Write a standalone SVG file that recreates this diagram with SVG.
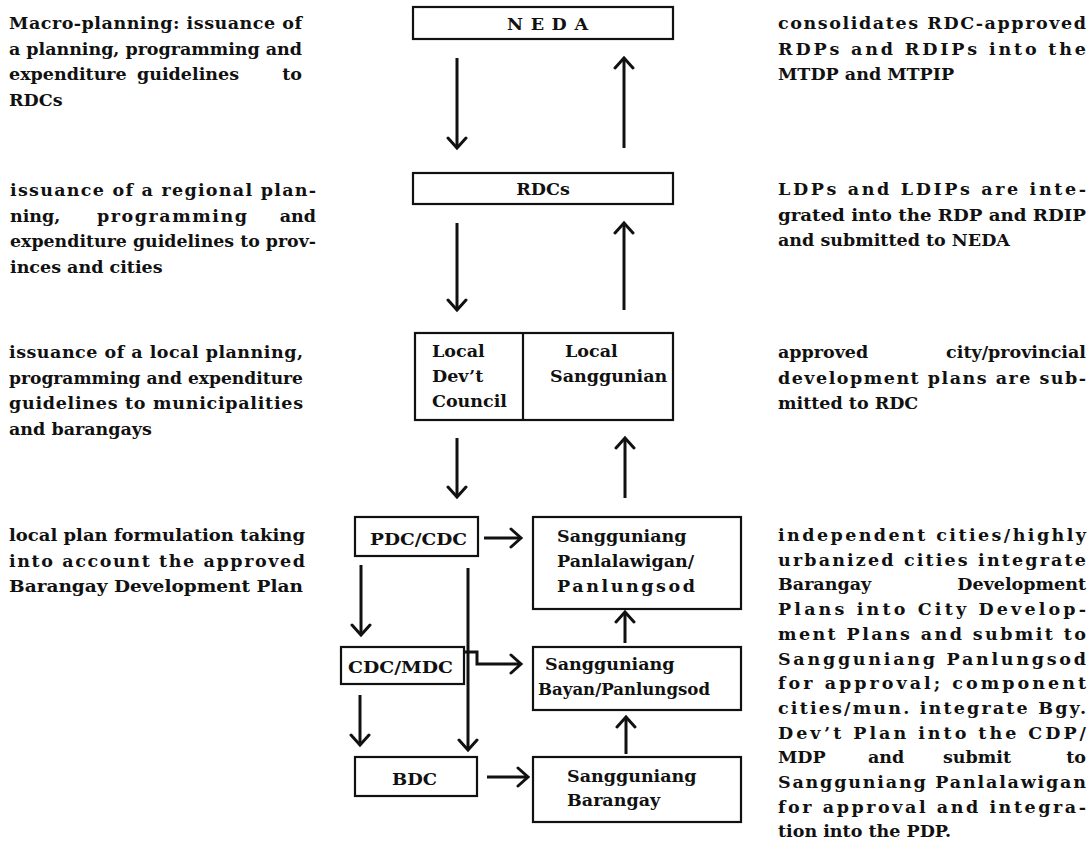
<svg xmlns="http://www.w3.org/2000/svg" width="1092" height="863" viewBox="0 0 1092 863">
<style>
 text { font-family: "DejaVu Serif", "Liberation Serif", serif; font-weight: bold; fill: #111; }
 .t { font-size: 17.5px; }
 .b { font-size: 17.5px; }
 .e { text-anchor: end; }
 .m { text-anchor: middle; }
 .box { fill: #fff; stroke: #111; stroke-width: 2.2; }
 .c { fill: none; stroke: #111; stroke-width: 3; }
</style>
<defs>
 <marker id="ah" markerUnits="userSpaceOnUse" markerWidth="16" markerHeight="22" refX="12" refY="11" orient="auto" viewBox="0 0 16 22">
  <path d="M2,2 L12,11 L2,20" fill="none" stroke="#111" stroke-width="3" stroke-linecap="round"/>
 </marker>
</defs>
<rect width="1092" height="863" fill="#fff"/>

<g id="notes-left">
 <text class="t" x="9" y="29" textLength="293" lengthAdjust="spacing">Macro-planning: issuance of</text>
 <text class="t" x="9" y="54.7" textLength="293" lengthAdjust="spacing">a planning, programming and</text>
 <text class="t" x="9" y="80.4">expenditure</text>
 <text class="t" x="137" y="80.4">guidelines</text>
 <text class="t e" x="302" y="80.4">to</text>
 <text class="t" x="9" y="106">RDCs</text>

 <text class="t" x="10" y="196" textLength="306" lengthAdjust="spacing">issuance of a regional plan-</text>
 <text class="t" x="10" y="221.7">ning,</text>
 <text class="t" x="97" y="221.7" textLength="150" lengthAdjust="spacing">programming</text>
 <text class="t e" x="316" y="221.7">and</text>
 <text class="t" x="10" y="247.4" textLength="306" lengthAdjust="spacingAndGlyphs">expenditure guidelines to prov-</text>
 <text class="t" x="10" y="273">inces and cities</text>

 <text class="t" x="9" y="358" textLength="294" lengthAdjust="spacing">issuance of a local planning,</text>
 <text class="t" x="9" y="383.7" textLength="294" lengthAdjust="spacingAndGlyphs">programming and expenditure</text>
 <text class="t" x="9" y="409.4" textLength="294" lengthAdjust="spacing">guidelines to municipalities</text>
 <text class="t" x="9" y="435">and barangays</text>

 <text class="t" x="9" y="541" textLength="296" lengthAdjust="spacingAndGlyphs">local plan formulation taking</text>
 <text class="t" x="9" y="566.7" textLength="296" lengthAdjust="spacing">into account the approved</text>
 <text class="t" x="9" y="592.4" textLength="294" lengthAdjust="spacingAndGlyphs">Barangay Development Plan</text>
</g>

<g id="notes-right">
 <text class="t" x="778" y="29" textLength="308" lengthAdjust="spacing">consolidates RDC-approved</text>
 <text class="t" x="778" y="54.7" textLength="308" lengthAdjust="spacing">RDPs and RDIPs into the</text>
 <text class="t" x="778" y="80.4">MTDP and MTPIP</text>

 <text class="t" x="778" y="195" textLength="308" lengthAdjust="spacing">LDPs and LDIPs are inte-</text>
 <text class="t" x="778" y="220.5" textLength="308" lengthAdjust="spacingAndGlyphs">grated into the RDP and RDIP</text>
 <text class="t" x="778" y="246">and submitted to NEDA</text>

 <text class="t" x="778" y="358">approved</text>
 <text class="t e" x="1086" y="358">city/provincial</text>
 <text class="t" x="778" y="383.7" textLength="308" lengthAdjust="spacing">development plans are sub-</text>
 <text class="t" x="778" y="409.4">mitted to RDC</text>

 <text class="t" x="778" y="541" textLength="308" lengthAdjust="spacing">independent cities/highly</text>
 <text class="t" x="778" y="565.7" textLength="308" lengthAdjust="spacing">urbanized cities integrate</text>
 <text class="t" x="778" y="590.4">Barangay</text>
 <text class="t e" x="1086" y="590.4">Development</text>
 <text class="t" x="778" y="615.1" textLength="308" lengthAdjust="spacing">Plans into City Develop-</text>
 <text class="t" x="778" y="639.8" textLength="308" lengthAdjust="spacing">ment Plans and submit to</text>
 <text class="t" x="778" y="664.5" textLength="308" lengthAdjust="spacing">Sangguniang Panlungsod</text>
 <text class="t" x="778" y="689.2" textLength="308" lengthAdjust="spacing">for approval; component</text>
 <text class="t" x="778" y="713.9" textLength="308" lengthAdjust="spacing">cities/mun. integrate Bgy.</text>
 <text class="t" x="778" y="738.6" textLength="308" lengthAdjust="spacing">Dev’t Plan into the CDP/</text>
 <text class="t" x="778" y="763.3">MDP</text>
 <text class="t" x="868" y="763.3">and</text>
 <text class="t" x="943" y="763.3">submit</text>
 <text class="t e" x="1086" y="763.3">to</text>
 <text class="t" x="778" y="788" textLength="308" lengthAdjust="spacing">Sangguniang Panlalawigan</text>
 <text class="t" x="778" y="812.7" textLength="308" lengthAdjust="spacing">for approval and integra-</text>
 <text class="t" x="778" y="837.4">tion into the PDP.</text>
</g>

<g id="connectors">
 <path class="c" d="M457,58 V148" marker-end="url(#ah)"/>
 <path class="c" d="M624,148 V58" marker-end="url(#ah)"/>
 <path class="c" d="M457,223 V310" marker-end="url(#ah)"/>
 <path class="c" d="M624,310 V223" marker-end="url(#ah)"/>
 <path class="c" d="M457,438 V497" marker-end="url(#ah)"/>
 <path class="c" d="M625,498 V438" marker-end="url(#ah)"/>
 <path class="c" d="M484,538 H521" marker-end="url(#ah)"/>
 <path class="c" d="M361,565 V635" marker-end="url(#ah)"/>
 <path class="c" d="M468,568 V750" marker-end="url(#ah)"/>
 <path class="c" d="M464,652 H477 V664 H521" marker-end="url(#ah)"/>
 <path class="c" d="M360,695 V745" marker-end="url(#ah)"/>
 <path class="c" d="M487,777 H528" marker-end="url(#ah)"/>
 <path class="c" d="M625,643 V612" marker-end="url(#ah)"/>
 <path class="c" d="M626,754 V717" marker-end="url(#ah)"/>
</g>

<g id="neda">
 <rect class="box" x="413" y="7" width="260" height="32"/>
 <text class="b" x="507" y="30" textLength="81" lengthAdjust="spacing">NEDA</text>
</g>
<g id="rdcs">
 <rect class="box" x="413" y="173" width="260" height="31"/>
 <text class="b m" x="543" y="195">RDCs</text>
</g>
<g id="local">
 <rect class="box" x="415" y="333" width="258" height="87"/>
 <line x1="523" y1="333" x2="523" y2="420" stroke="#111" stroke-width="2.2"/>
 <text class="b" x="432" y="357">Local</text>
 <text class="b" x="432" y="382">Dev’t</text>
 <text class="b" x="432" y="407">Council</text>
 <text class="b" x="565" y="357">Local</text>
 <text class="b" x="550" y="382">Sanggunian</text>
</g>
<g id="pdc-cdc">
 <rect class="box" x="355" y="517" width="123" height="39"/>
 <text class="b" x="370" y="545" textLength="97" lengthAdjust="spacingAndGlyphs">PDC/CDC</text>
</g>
<g id="sp-panlalawigan">
 <rect class="box" x="533" y="517" width="208" height="92"/>
 <text class="b" x="557" y="542">Sangguniang</text>
 <text class="b" x="557" y="567">Panlalawigan/</text>
 <text class="b" x="557" y="592" textLength="138" lengthAdjust="spacing">Panlungsod</text>
</g>
<g id="cdc-mdc">
 <rect class="box" x="341" y="647" width="123" height="37"/>
 <text class="b" x="348" y="673" textLength="105" lengthAdjust="spacingAndGlyphs">CDC/MDC</text>
</g>
<g id="sb-bayan">
 <rect class="box" x="533" y="647" width="208" height="63"/>
 <text class="b" x="545" y="670">Sangguniang</text>
 <text class="b" x="538" y="695" textLength="172" lengthAdjust="spacingAndGlyphs">Bayan/Panlungsod</text>
</g>
<g id="bdc">
 <rect class="box" x="355" y="757" width="122" height="39"/>
 <text class="b" x="392" y="785" textLength="45" lengthAdjust="spacingAndGlyphs">BDC</text>
</g>
<g id="sb-barangay">
 <rect class="box" x="533" y="757" width="208" height="65"/>
 <text class="b" x="567" y="782">Sangguniang</text>
 <text class="b" x="567" y="806">Barangay</text>
</g>
</svg>
